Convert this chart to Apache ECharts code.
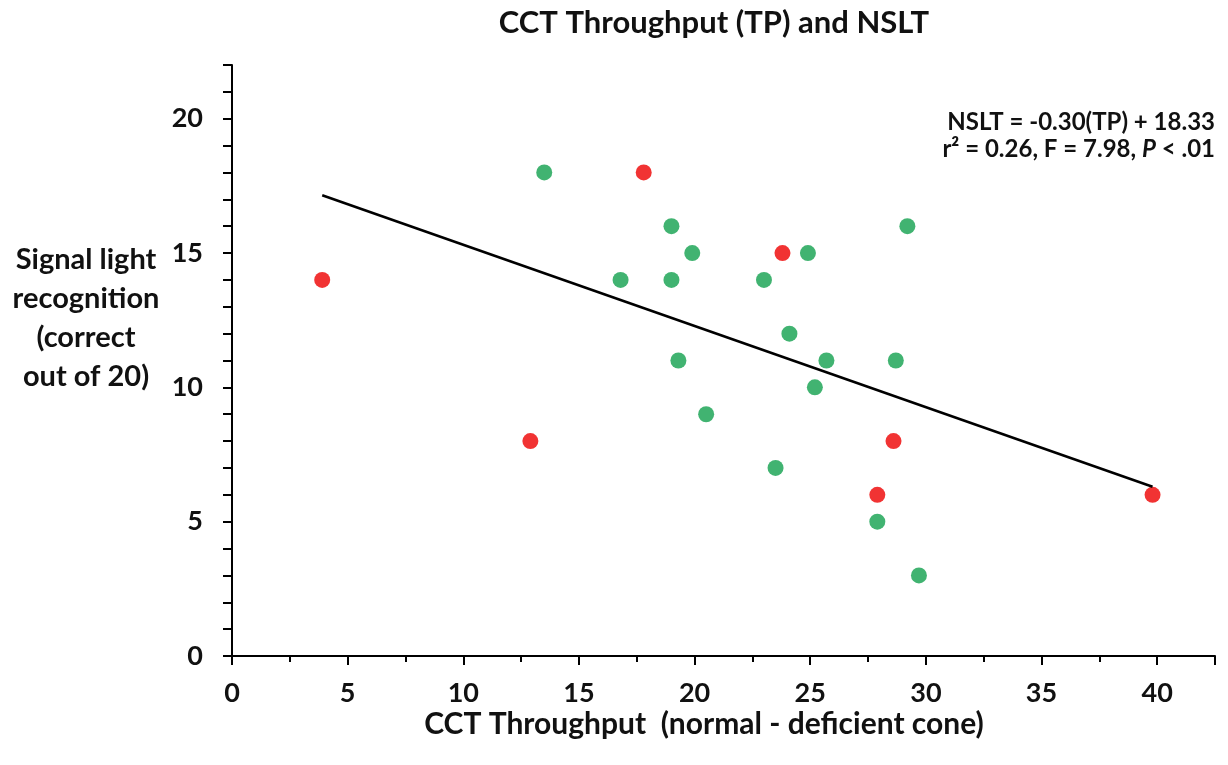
<!DOCTYPE html>
<html>
<head>
<meta charset="utf-8">
<script src="https://cdn.jsdelivr.net/npm/echarts@6/dist/echarts.min.js"></script>
<style>
html,body{margin:0;padding:0;background:#fff;}
#chart{width:1228px;height:765px;}
</style>
</head>
<body>
<div id="chart"></div>
<script>
// Data
const redPoints = [[3.9,14],[12.9,8],[17.8,18],[23.8,15],[28.6,8],[27.9,6],[39.8,6]];
const greenPoints = [[13.5,18],[16.8,14],[19.0,16],[29.2,16],[19.9,15],[24.9,15],[19.0,14],[23.0,14],
  [24.1,12],[19.3,11],[25.7,11],[28.7,11],[25.2,10],[20.5,9],[23.5,7],[27.9,5],[29.7,3]];
const trendLine = [[3.9,17.15],[39.8,6.3]];
const xTicks = {min:0, max:42.5, minor:2.5, major:5};
const yTicks = {min:0, max:22, minor:1, major:5};
const titleText = 'CCT Throughput (TP) and NSLT';
const xName = 'CCT Throughput  (normal - deficient cone)';
const yName = 'Signal light\nrecognition\n(correct\nout of 20)';
const eqLine1 = 'NSLT = -0.30(TP) + 18.33';

const FONT = 'Lato';
const chart = echarts.init(document.getElementById('chart'));
const axisLineStyle = {color:'#000', width:2};
chart.setOption({
  animation:false,
  backgroundColor:'#fff',
  grid:{left:232, right:13, top:65, bottom:109},
  xAxis:[{
    type:'value', min:xTicks.min, max:xTicks.max, interval:xTicks.minor,
    splitLine:{show:false},
    axisLine:{show:true, onZero:false, lineStyle:axisLineStyle},
    axisTick:{show:true, inside:false, length:6, lineStyle:{color:'#000', width:2}},
    axisLabel:{margin:24, fontFamily:FONT, fontWeight:'bold', fontSize:27, color:'#111',
      formatter:v => (v % xTicks.major === 0 ? String(v) : '')}
  },{
    type:'value', min:xTicks.min, max:xTicks.max, interval:xTicks.major, position:'bottom',
    splitLine:{show:false}, axisLine:{show:false},
    axisTick:{show:true, length:9, lineStyle:{color:'#000', width:2}},
    axisLabel:{show:false}
  }],
  yAxis:{
    type:'value', min:yTicks.min, max:yTicks.max, interval:yTicks.minor,
    splitLine:{show:false},
    axisLine:{show:true, onZero:false, lineStyle:axisLineStyle},
    axisTick:{show:true, inside:false, length:9, lineStyle:{color:'#000', width:2}},
    axisLabel:{margin:29, fontFamily:FONT, fontWeight:'bold', fontSize:27, color:'#111',
      formatter:v => (v % yTicks.major === 0 ? String(v) : '')}
  },
  series:[
    {type:'scatter', data:greenPoints, symbolSize:16, itemStyle:{color:'#12a04e'}, z:2},
    {type:'scatter', data:redPoints, symbolSize:16, itemStyle:{color:'#ee0000'}, z:2},
    {type:'line', data:trendLine, symbol:'none', lineStyle:{color:'#000', width:2.5}, z:3}
  ],
  graphic:[
    {type:'text', style:{text:titleText, x:714, y:23, align:'center', verticalAlign:'middle',
      font:'bold 31px ' + FONT, fill:'#111'}},
    {type:'text', style:{text:xName, x:704, y:724, align:'center', verticalAlign:'middle',
      font:'bold 30px ' + FONT, fill:'#111'}},
    {type:'text', style:{text:yName, x:86, y:318, align:'center', verticalAlign:'middle',
      font:'bold 29px ' + FONT, fill:'#111', lineHeight:39}},
    {type:'text', style:{
      text:'{a|' + eqLine1 + '}\n{a|r² = 0.26, F = 7.98, }{i|P}{a| < .01}',
      x:1215, y:136, align:'right', verticalAlign:'middle',
      rich:{
        a:{font:'bold 24px ' + FONT, fill:'#111', lineHeight:27},
        i:{font:'italic bold 24px ' + FONT, fill:'#111', lineHeight:27}
      }}}
  ]
});
</script>
</body>
</html>
